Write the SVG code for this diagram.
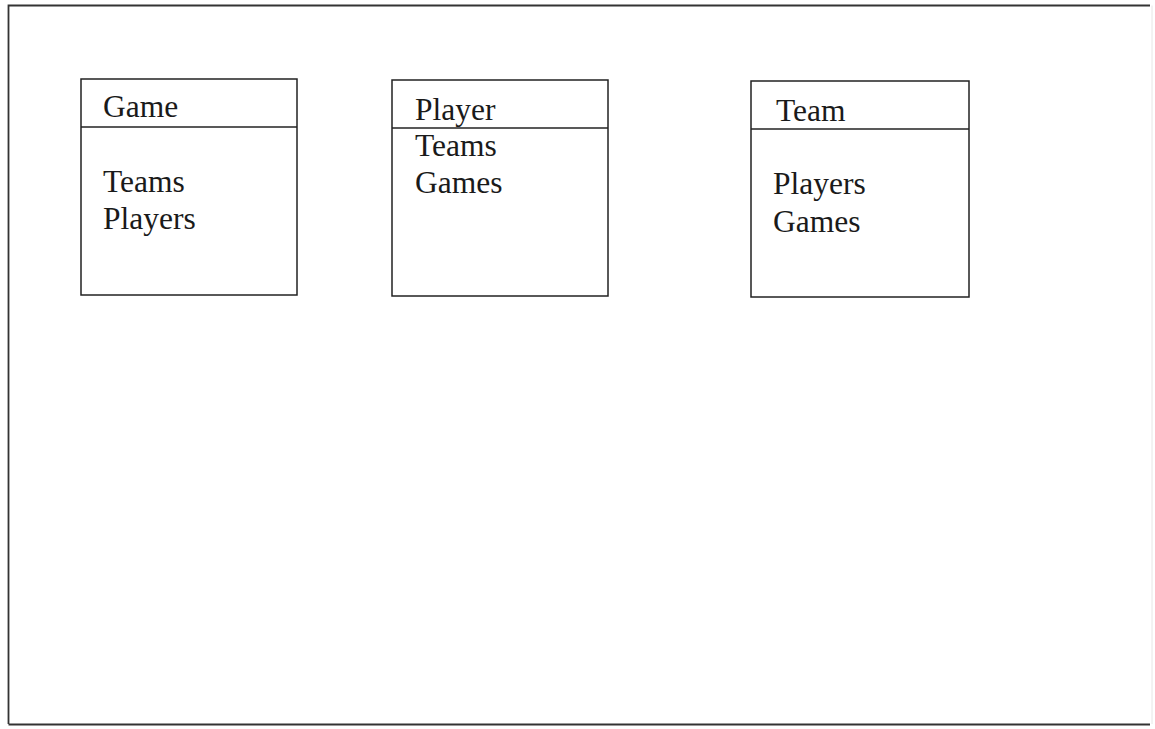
<svg xmlns="http://www.w3.org/2000/svg" width="1155" height="729" viewBox="0 0 1155 729">
<style>
.box{fill:#fff;stroke:#222;stroke-width:1.5}
.sep{stroke:#222;stroke-width:1.5}
.t{font-family:"Liberation Serif","Times New Roman",serif;font-size:31.5px;fill:#1a1a1a}
</style>
<rect width="1155" height="729" fill="#fff"/>
<g id="frame" fill="none">
<path d="M8.5 724 V5.5 H1150" stroke="#333" stroke-width="1.8"/>
<path d="M8.5 724.5 H1150" stroke="#333" stroke-width="1.8"/>
<path d="M1152 5.5 V724" stroke="#e6e6e6" stroke-width="1"/>
</g>
<g id="game">
<rect class="box" x="81" y="79" width="216" height="216"/>
<line class="sep" x1="81" y1="127" x2="297" y2="127"/>
<text class="t" x="103" y="117">Game</text>
<text class="t" x="103" y="192">Teams</text>
<text class="t" x="103" y="229">Players</text>
</g>
<g id="player">
<rect class="box" x="392" y="80" width="216" height="216"/>
<line class="sep" x1="392" y1="128" x2="608" y2="128"/>
<text class="t" x="415" y="120">Player</text>
<text class="t" x="415" y="156">Teams</text>
<text class="t" x="415" y="193">Games</text>
</g>
<g id="team">
<rect class="box" x="751" y="81" width="218" height="216"/>
<line class="sep" x1="751" y1="129" x2="969" y2="129"/>
<text class="t" x="776" y="121">Team</text>
<text class="t" x="773" y="194">Players</text>
<text class="t" x="773" y="232">Games</text>
</g>
<g id="connectors"/>
</svg>
